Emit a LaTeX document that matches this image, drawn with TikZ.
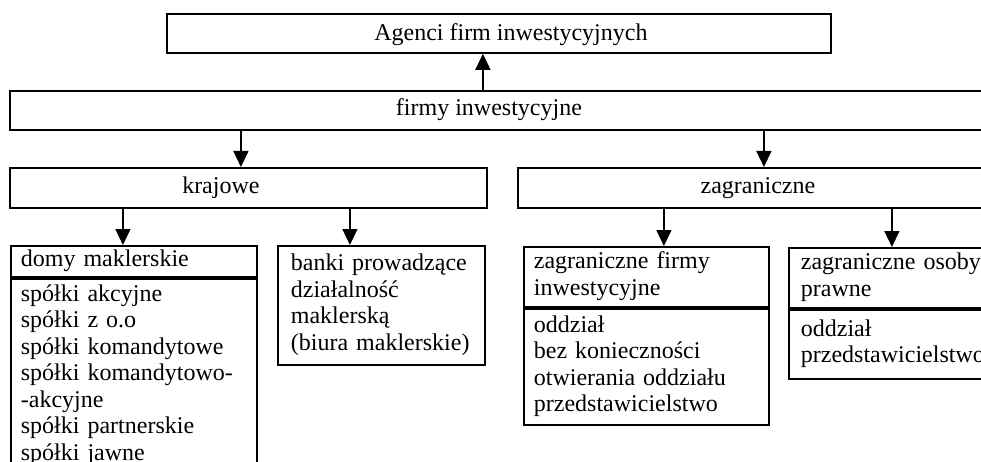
\documentclass[tikz,border=0pt]{standalone}
\usepackage{fontspec}
\setmainfont{Liberation Serif}
\usetikzlibrary{arrows.meta, positioning}
\tikzset{%
>={Triangle[width=15pt,length=16pt]},
  % Specifications for style of nodes:
            box/.style = {rectangle, draw=black, line width=1.8pt,
                            inner xsep=0pt, inner ysep=0pt,
                            font=\fontsize{24}{26.5}\selectfont,
                            execute at begin node=\strut},
            listbox/.style = {box, align=left, inner xsep=10pt,
                            execute at end node=\strut},
            link/.style = {->, line width=1.5pt}
}
\begin{document}
\begin{tikzpicture}[x=1pt, y=-1pt]
                        \useasboundingbox (0,0) rectangle (981,462);
                        \clip (0,0) rectangle (981,462);
                        \node[box, minimum width=664pt, minimum height=39pt, anchor=north west] (agenci) at (166,13) {\hspace*{24pt}\raisebox{-2pt}{Agenci firm inwestycyjnych}};
                        \node[box, minimum width=988pt, minimum height=39pt, anchor=north west] (firmy) at (9,90) {firmy inwestycyjne\hspace*{30pt}};
                        \node[box, minimum width=477pt, minimum height=40pt, anchor=north west] (krajowe) at (9,167) {krajowe\hspace*{55pt}};
                        \node[box, minimum width=480pt, minimum height=40pt, anchor=north west] (zagraniczne) at (517,167) {zagraniczne};
                        \node[listbox, text width=226pt, minimum height=31pt, anchor=north west] (domy) at (10,245) {domy maklerskie};
                        \node[listbox, text width=226pt, minimum height=193pt, anchor=north west] (spolki) at (domy.south west) {spółki akcyjne\\ spółki z o.o\\ spółki komandytowe\\ spółki komandytowo-\\ -akcyjne\\ spółki partnerskie\\ spółki jawne};
                        \node[listbox, inner xsep=13pt, text width=181pt, minimum height=119pt, anchor=north west] (banki) at (277,245) {banki prowadzące\\ działalność\\ maklerską\\ (biura maklerskie)};
                        \node[listbox, text width=225pt, minimum height=60pt, anchor=north west] (zfirmy) at (523,246) {zagraniczne firmy\\ inwestycyjne};
                        \node[listbox, text width=225pt, minimum height=116pt, anchor=north west] (zfirmyform) at (zfirmy.south west) {oddział\\ bez konieczności\\ otwierania oddziału\\ przedstawicielstwo};
                        \node[listbox, inner xsep=12pt, text width=221pt, minimum height=60pt, anchor=north west] (zosoby) at (788,247) {zagraniczne osoby\\ prawne};
                        \node[listbox, inner xsep=12pt, text width=221pt, minimum height=69pt, anchor=north west] (zosobyform) at (zosoby.south west) {oddział\\ przedstawicielstwo};
                        \draw[link] ([xshift=-16pt]agenci.south |- firmy.north) -- ([xshift=-16pt]agenci.south);
                        \draw[link] ([xshift=-7.5pt]krajowe.north |- firmy.south) -- ([xshift=-7.5pt]krajowe.north);
                        \draw[link] ([xshift=6pt]zagraniczne.north |- firmy.south) -- ([xshift=6pt]zagraniczne.north);
                        \draw[link] ([xshift=-11pt]domy.north |- krajowe.south) -- ([xshift=-11pt]domy.north);
                        \draw[link] ([xshift=-31.5pt]banki.north |- krajowe.south) -- ([xshift=-31.5pt]banki.north);
                        \draw[link] ([xshift=17.5pt]zfirmy.north |- zagraniczne.south) -- ([xshift=17.5pt]zfirmy.north);
                        \draw[link] ([xshift=-19.5pt]zosoby.north |- zagraniczne.south) -- ([xshift=-19.5pt]zosoby.north);
                    \end{tikzpicture}
\end{document}
